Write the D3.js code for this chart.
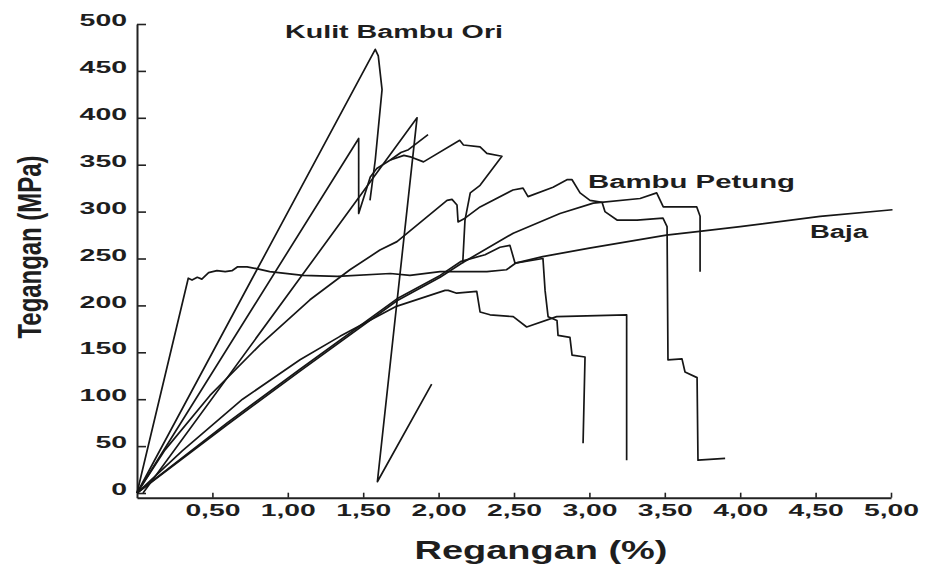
<!DOCTYPE html>
<html>
<head>
<meta charset="utf-8">
<script src="https://cdn.jsdelivr.net/npm/d3@7"></script>
<style>
  body { margin: 0; background: #fff; }
  .axis .domain { stroke: #222; stroke-width: 2; }
  .axis .tick line { stroke: #222; stroke-width: 1.6; }
  .axis text { font-family: "Liberation Sans", Arial, sans-serif; font-weight: bold; font-size: 16px; fill: #1e1e1e; }
  .curve { fill: none; stroke: #161616; stroke-width: 1.7; stroke-linejoin: round; }
  .note { font-family: "Liberation Sans", Arial, sans-serif; font-weight: bold; fill: #1e1e1e; }
</style>
</head>
<body>
<script>
// tick values
const xTicks = [0.5, 1, 1.5, 2, 2.5, 3, 3.5, 4, 4.5, 5];
const yTicks = [0, 50, 100, 150, 200, 250, 300, 350, 400, 450, 500];

// curves: [regangan %, tegangan MPa]
const baja = [[0,0],[0.34,229],[0.365,227],[0.40,230],[0.43,228],[0.475,235],[0.53,237],[0.585,236],[0.63,237],[0.665,241],[0.73,241],[0.80,239],[0.88,236],[1.10,232],[1.33,231],[1.68,234],[1.81,232],[2.01,236],[2.32,236],[2.45,238],[2.51,245],[2.69,252],[3.00,261],[3.51,275],[3.73,279],[4.00,284],[4.53,295],[5.01,302]];
const kulit1 = [[0,0],[1.58,473],[1.60,466],[1.625,430],[1.58,355],[1.545,312]];
const kulit2 = [[0,0],[1.47,378],[1.47,298],[1.547,337],[1.59,346],[1.68,355],[1.77,360],[1.82,358],[1.90,353],[2.14,376],[2.165,371],[2.275,369],[2.32,362],[2.42,359],[2.275,328],[2.21,320],[2.175,291],[2.16,245]];
const kulit2b = [[1.68,355],[1.75,363],[1.80,366],[1.93,382]];
const kulit3 = [[0.04,0],[1.857,400],[1.594,12],[1.954,116]];
const petungA = [[0,0],[0.186,46],[0.484,104],[0.816,158],[1.147,206],[1.412,238],[1.611,259],[1.724,268],[2.056,312],[2.089,313],[2.122,307],[2.129,289],[2.175,293],[2.275,305],[2.493,323],[2.56,325],[2.593,316],[2.759,326],[2.851,334],[2.885,334],[2.938,320],[3.004,312],[3.084,310],[3.103,300],[3.183,291],[3.316,291],[3.488,293],[3.515,284],[3.521,142],[3.614,143],[3.634,129],[3.714,123],[3.72,35],[3.90,37]];
const petungB = [[0,0],[0.6,73],[1.081,130],[1.724,205],[2.01,230],[2.153,245],[2.495,277],[2.805,298],[3.026,309],[3.336,314],[3.446,320],[3.49,305],[3.712,305],[3.734,295],[3.734,236]];
const petungC = [[0,0],[0.3,45],[0.7,100],[1.081,142],[1.346,167],[1.72,199],[2.043,216],[2.064,216],[2.12,213],[2.253,215],[2.275,193],[2.341,190],[2.495,188],[2.584,177],[2.783,188],[3.247,190],[3.247,35]];
const petungD = [[0,0],[0.6,75],[1.081,132],[1.724,207],[2.01,232],[2.15,247],[2.308,254],[2.407,262],[2.473,264],[2.507,245],[2.692,250],[2.706,216],[2.726,188],[2.785,184],[2.792,168],[2.871,166],[2.885,147],[2.971,145],[2.958,53]];

const curves = [baja, kulit1, kulit2, kulit2b, kulit3, petungA, petungB, petungC, petungD];

const width = 926;
const height = 566;

const svg = d3.select("body").append("svg")
    .attr("width", width)
    .attr("height", height);

svg.append("rect").attr("width", width).attr("height", height).attr("fill", "#fff");

const x = d3.scaleLinear().domain([0, 5]).range([137, 891]);
const y = d3.scaleLinear().domain([-5, 500]).range([497.7, 24]); // x axis sits a little under zero

// x axis, ticks pointing up
const xAxis = svg.append("g")
    .attr("class", "axis")
    .attr("transform", `translate(0,${y(-5)})`)
    .call(d3.axisBottom(x)
        .tickValues(xTicks)
        .tickSize(-5)
        .tickSizeOuter(0)
        .tickPadding(7)
        .tickFormat(d => d3.format(".2f")(d).replace(".", ",")));
xAxis.selectAll("text")
    .attr("textLength", 55)
    .attr("lengthAdjust", "spacingAndGlyphs");

// y axis, ticks pointing right
const yAxis = svg.append("g")
    .attr("class", "axis")
    .attr("transform", `translate(${x(0)},0)`)
    .call(d3.axisLeft(y)
        .tickValues(yTicks)
        .tickSize(-9)
        .tickSizeOuter(0)
        .tickPadding(10));
yAxis.selectAll("text")
    .attr("dy", "0.1em")
    .attr("textLength", d => String(d).length * 15.8)
    .attr("lengthAdjust", "spacingAndGlyphs");

// curves
const line = d3.line().x(d => x(d[0])).y(d => y(d[1]));
svg.selectAll(".curve")
    .data(curves)
    .enter()
    .append("path")
    .attr("class", "curve")
    .attr("d", line);

// axis titles
svg.append("text")
    .attr("class", "note")
    .attr("x", 541)
    .attr("y", 559)
    .attr("text-anchor", "middle")
    .attr("font-size", 26)
    .attr("textLength", 253)
    .attr("lengthAdjust", "spacingAndGlyphs")
    .text("Regangan (%)");

svg.append("text")
    .attr("class", "note")
    .attr("transform", "translate(41,247) rotate(-90)")
    .attr("text-anchor", "middle")
    .attr("font-size", 34)
    .attr("textLength", 183)
    .attr("lengthAdjust", "spacingAndGlyphs")
    .text("Tegangan (MPa)");

// curve labels
const notes = [
    {text: "Kulit Bambu Ori", left: 285, base: 38, len: 218},
    {text: "Bambu Petung", left: 588, base: 188, len: 207},
    {text: "Baja", left: 810, base: 238, len: 58}
];
svg.selectAll(".curveLabel")
    .data(notes)
    .enter()
    .append("text")
    .attr("class", "note curveLabel")
    .attr("x", d => d.left)
    .attr("y", d => d.base)
    .attr("font-size", 18)
    .attr("textLength", d => d.len)
    .attr("lengthAdjust", "spacingAndGlyphs")
    .text(d => d.text);
</script>
</body>
</html>
